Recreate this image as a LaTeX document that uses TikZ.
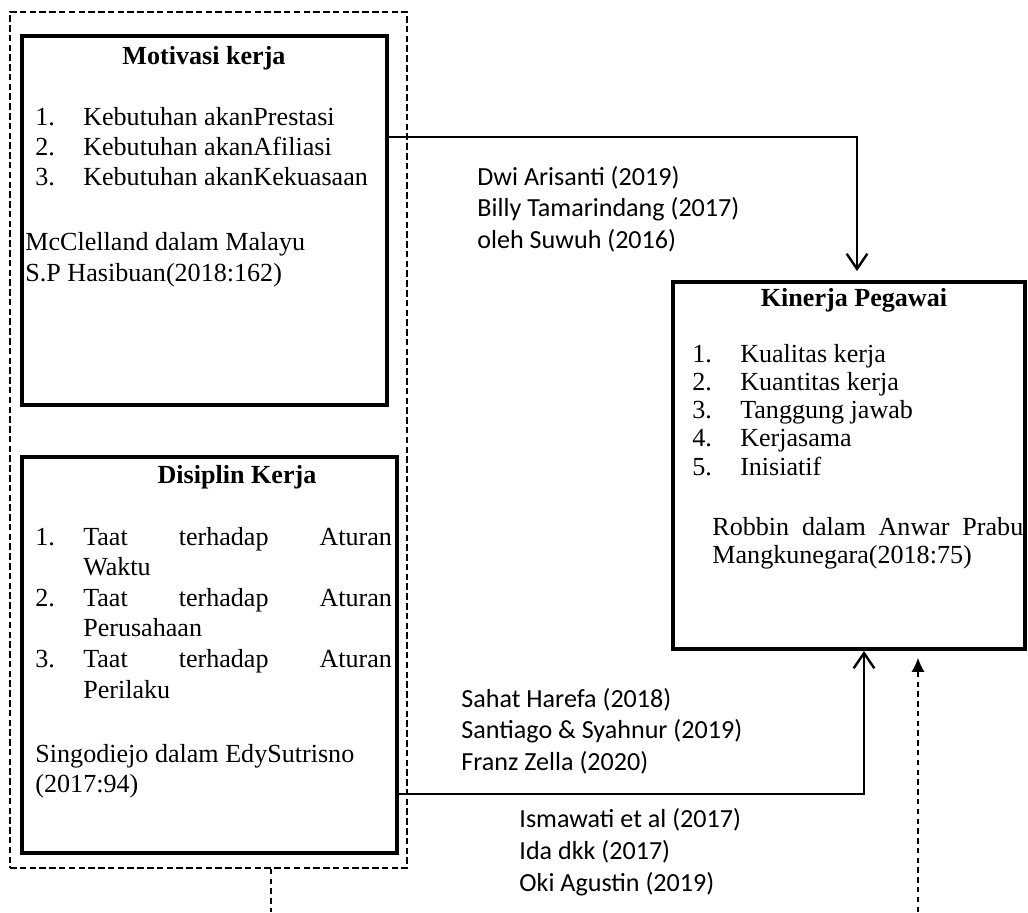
\documentclass[tikz,border=0pt]{standalone}
\usepackage{fontspec}
\setmainfont{Liberation Serif}
\newfontfamily\calibri{Carlito}
\usetikzlibrary{calc, arrows.meta}

\tikzset{
 kotak/.style = {draw, line width=2pt, inner sep=0pt},
 judul/.style = {inner sep=0pt, anchor=base, font=\fontsize{12}{14}\selectfont\bfseries},
 teks/.style = {inner sep=0pt, anchor=base west, font=\fontsize{12}{#1}\selectfont},
 teks/.default = 13.8,
 rujukan/.style = {inner sep=0pt, anchor=base west, font=\calibri\fontsize{12}{#1}\selectfont},
 rujukan/.default = 14.7,
 garis/.style = {line width=1.1pt, -{Straight Barb[length=7pt, width=9.5pt]}},
 putus/.style = {line width=0.5pt, dash pattern=on 2.5pt off 2pt},
}

\begin{document}
\begin{tikzpicture}[x=0.46pt, y=-0.46pt]
 \useasboundingbox (0,0) rectangle (1028,912);
 % kotak luar putus-putus
 \node[draw, line width=0.8pt, dash pattern=on 3pt off 1.5pt, minimum width=182.6pt, minimum height=393.8pt] (luar) at (208.5,440) {};
 \node[kotak, minimum width=167.9pt, minimum height=169.7pt] (motivasi) at (204.5,220.5) {};
 \node[kotak, minimum width=172.5pt, minimum height=182.2pt] (disiplin) at (209.5,655) {};
 \node[kotak, minimum width=161.9pt, minimum height=168.6pt] (kinerja) at (849,465.5) {};

 % isi kotak motivasi
 \node[judul] (jmot) at (204,64) {Motivasi kerja};
 \node[teks] (imot) at (35,125) {\begin{tabular}[t]{@{}p{22pt}@{}l@{}}
 1. & Kebutuhan akanPrestasi\\
 2. & Kebutuhan akanAfiliasi\\
 3. & Kebutuhan akanKekuasaan
 \end{tabular}};
 \node[teks=14.7] (smot) at (25,250) {\begin{tabular}[t]{@{}l@{}}
 McClelland dalam Malayu\\
 S.P Hasibuan(2018:162)
 \end{tabular}};

 % isi kotak disiplin
 \node[judul] (jdis) at (237,483) {Disiplin Kerja};
 \node[teks=14.1] (idis) at (35,545) {\begin{tabular}[t]{@{}p{22pt}@{}l@{}}
 1. & \makebox[142pt][s]{Taat terhadap Aturan}\\
    & Waktu\\
 2. & \makebox[142pt][s]{Taat terhadap Aturan}\\
    & Perusahaan\\
 3. & \makebox[142pt][s]{Taat terhadap Aturan}\\
    & Perilaku
 \end{tabular}};
 \node[teks] (sdis) at (35,762) {\begin{tabular}[t]{@{}l@{}}
 Singodiejo dalam EdySutrisno\\
 (2017:94)
 \end{tabular}};

 % isi kotak kinerja
 \node[judul] (jkin) at (854,306) {Kinerja Pegawai};
 \node[teks=13] (ikin) at (692,362) {\begin{tabular}[t]{@{}p{22pt}@{}l@{}}
 1. & Kualitas kerja\\
 2. & Kuantitas kerja\\
 3. & Tanggung jawab\\
 4. & Kerjasama\\
 5. & Inisiatif
 \end{tabular}};
 \node[teks=12.9] (skin) at (712,535) {\begin{tabular}[t]{@{}l@{}}
 \makebox[143pt][s]{Robbin dalam Anwar Prabu}\\
 Mangkunegara(2018:75)
 \end{tabular}};

 % rujukan penelitian
 \node[rujukan=14.6] (r1) at (477,185) {\begin{tabular}[t]{@{}l@{}}
 Dwi Arisanti (2019)\\
 Billy Tamarindang (2017)\\
 oleh Suwuh (2016)
 \end{tabular}};
 \node[rujukan] (r2) at (461,707) {\begin{tabular}[t]{@{}l@{}}
 Sahat Harefa (2018)\\
 Santiago \& Syahnur (2019)\\
 Franz Zella (2020)
 \end{tabular}};
 \node[rujukan=14.9] (r3) at (519,827) {\begin{tabular}[t]{@{}l@{}}
 Ismawati et al (2017)\\
 Ida dkk (2017)\\
 Oki Agustin (2019)
 \end{tabular}};

 % panah
 \coordinate (lvl1) at (0,137);
 \coordinate (lvl2) at (0,794);
 \coordinate (dasar1) at (918,912);
 \coordinate (dasar2) at (271,912);
 \draw[garis] (motivasi.east |- lvl1) -| ($(kinerja.north)+(8,-9)$);
 \draw[garis] (disiplin.east |- lvl2) -| ($(kinerja.south)+(15,0)$);
 \draw[putus, -{Latex[length=6.4pt, width=6pt]}] (dasar1) -- ($(kinerja.south -| dasar1)+(0,7)$);
 \draw[putus] (luar.south -| dasar2) -- (dasar2);
\end{tikzpicture}
\end{document}
